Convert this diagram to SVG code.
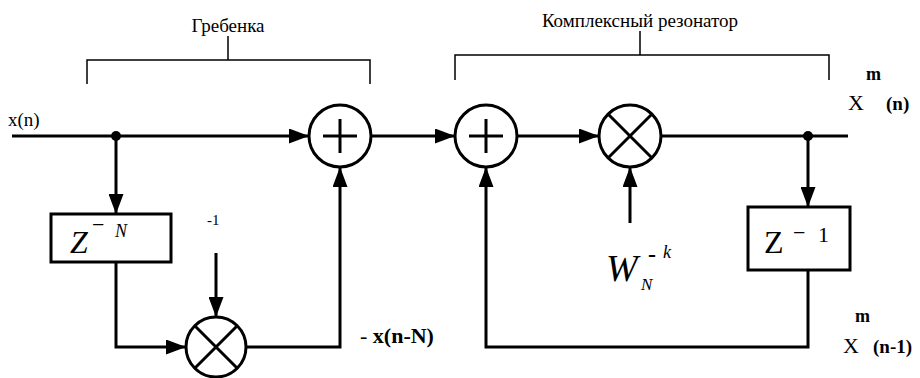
<svg xmlns="http://www.w3.org/2000/svg" width="920" height="378" viewBox="0 0 920 378" font-family="Liberation Serif, Times New Roman, Times, serif">
  <style>
    .wire { fill: none; stroke: #000; stroke-width: 3; }
    .arr { marker-end: url(#head); }
    .node { fill: #fff; stroke: #000; stroke-width: 3; }
    .sym { fill: none; stroke: #000; stroke-width: 3; }
    .brace { fill: none; stroke: #000; stroke-width: 1.5; }
    .dot { fill: #000; }
    .lbl { font-size: 19px; }
    .b { font-weight: bold; }
    .it { font-style: italic; }
  </style>
  <defs>
    <marker id="head" markerUnits="userSpaceOnUse" markerWidth="20" markerHeight="15" refX="20" refY="7.5" orient="auto">
      <path d="M0,0 L20,7.5 L0,15 Z" fill="#000"/>
    </marker>
  </defs>

  <!-- section brackets -->
  <g id="comb-bracket">
    <path class="brace" d="M87,84 V60 H370 V84 M228,60 V36"/>
    <text class="lbl" x="228" y="32" text-anchor="middle">Гребенка</text>
  </g>
  <g id="resonator-bracket">
    <path class="brace" d="M455,80 V55 H829 V80 M640,55 V31"/>
    <text class="lbl" x="640" y="27" text-anchor="middle">Комплексный резонатор</text>
  </g>

  <!-- connectors -->
  <g id="connectors">
    <path class="wire arr" d="M12,136 H309"/>
    <path class="wire arr" d="M116,136 V214"/>
    <path class="wire arr" d="M116,262 V347 H186"/>
    <path class="wire arr" d="M216,253 V317"/>
    <path class="wire arr" d="M246,347 H340 V167"/>
    <path class="wire arr" d="M371,136 H455"/>
    <path class="wire arr" d="M517,136 H599"/>
    <path class="wire" d="M661,136 H848"/>
    <path class="wire arr" d="M808,136 V207"/>
    <path class="wire arr" d="M808,270 V347 H486 V167"/>
    <path class="wire arr" d="M630,223 V167"/>
    <circle class="dot" cx="116" cy="136" r="5"/>
    <circle class="dot" cx="808" cy="136" r="5"/>
  </g>

  <!-- input label -->
  <g id="input">
    <text class="lbl" x="8" y="126">x(n)</text>
  </g>

  <!-- comb delay z^-N -->
  <g id="delay-n">
    <rect class="node" x="51" y="214" width="120" height="48"/>
    <text x="70" y="253" font-size="32" class="it">Z</text>
    <text x="92" y="232" font-size="22">−</text>
    <text x="115" y="237" font-size="18" class="it">N</text>
  </g>

  <!-- multiply by -1 -->
  <g id="mult-neg">
    <circle class="node" cx="216" cy="347" r="30"/>
    <path class="sym" d="M195,326 L237,368 M237,326 L195,368"/>
    <text x="207" y="225" font-size="15">-1</text>
  </g>
  <g id="neg-label">
    <text x="360" y="343" font-size="22">- <tspan class="b">x(n-N)</tspan></text>
  </g>

  <!-- comb adder -->
  <g id="sum-comb">
    <circle class="node" cx="340" cy="136" r="31"/>
    <path class="sym" d="M323,136 H357 M340,119 V153"/>
  </g>

  <!-- resonator adder -->
  <g id="sum-res">
    <circle class="node" cx="486" cy="136" r="31"/>
    <path class="sym" d="M469,136 H503 M486,119 V153"/>
  </g>

  <!-- twiddle multiplier -->
  <g id="mult-w">
    <circle class="node" cx="630" cy="136" r="31"/>
    <path class="sym" d="M608,114 L652,158 M652,114 L608,158"/>
  </g>
  <g id="twiddle">
    <text x="606" y="281" font-size="38" class="it">W</text>
    <text x="641" y="290" font-size="17" class="it">N</text>
    <text x="648" y="262" font-size="24" class="b">-</text>
    <text x="663" y="258" font-size="18" class="it">k</text>
  </g>

  <!-- resonator delay z^-1 -->
  <g id="delay-1">
    <rect class="node" x="748" y="207" width="102" height="63"/>
    <text x="764" y="253" font-size="32">Z</text>
    <text x="793" y="240" font-size="22">−</text>
    <text x="818" y="242" font-size="22">1</text>
  </g>

  <!-- outputs -->
  <g id="out-n">
    <text x="866" y="80" font-size="18" class="b">m</text>
    <text x="848" y="110" font-size="22">X</text>
    <text x="886" y="110" font-size="19" class="b">(n)</text>
  </g>
  <g id="out-n1">
    <text x="855" y="322" font-size="18" class="b">m</text>
    <text x="843" y="353" font-size="22">X</text>
    <text x="873" y="353" font-size="19" class="b">(n-1)</text>
  </g>
</svg>
